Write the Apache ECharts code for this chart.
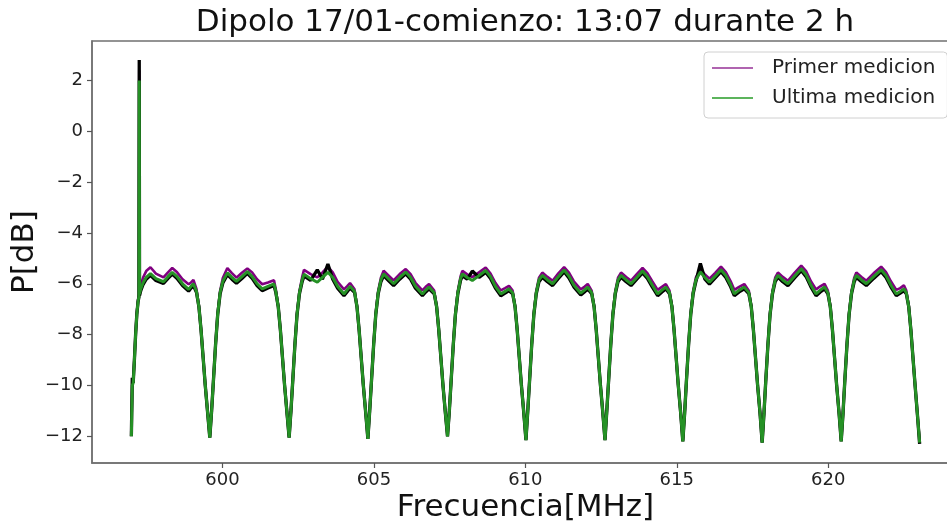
<!DOCTYPE html>
<html>
<head>
<meta charset="utf-8">
<script src="https://cdn.jsdelivr.net/npm/echarts@6/dist/echarts.min.js"></script>
<style>
html,body{margin:0;padding:0;background:#fff;}
#chart{width:947px;height:524px;}
</style>
</head>
<body>
<div id="chart"></div>
<script>
// Frequency (MHz)
const freq = [
596.99,597.02,597.05,597.09,597.13,597.17,597.21,597.24,597.25,597.26,597.30,597.38,597.48,597.62,597.80,598.05,598.20,598.34,598.50,598.68,598.88,598.96,599.04,599.14,599.22,599.29,599.36,599.43,599.51,
599.58,599.64,599.70,599.77,599.84,599.92,600.01,600.16,600.31,600.46,600.64,600.82,600.98,601.14,601.31,601.50,601.70,601.76,601.84,601.91,601.98,602.05,602.13,
602.20,602.26,602.32,602.39,602.46,602.54,602.63,602.69,602.91,603.13,603.30,603.48,603.64,603.80,604.01,604.11,604.21,604.36,604.44,604.51,604.58,604.65,604.73,
604.80,604.86,604.92,604.99,605.06,605.14,605.23,605.32,605.48,605.65,605.85,606.05,606.21,606.37,606.60,606.71,606.82,606.99,607.07,607.14,607.21,607.28,607.36,
607.43,607.49,607.55,607.62,607.69,607.77,607.86,607.92,608.08,608.25,608.47,608.69,608.85,609.01,609.19,609.33,609.46,609.58,609.66,609.73,609.80,609.87,609.95,
610.02,610.08,610.14,610.21,610.28,610.36,610.45,610.56,610.73,610.90,611.09,611.28,611.44,611.60,611.83,611.95,612.06,612.19,612.27,612.34,612.41,612.48,612.56,
612.63,612.69,612.75,612.82,612.89,612.97,613.06,613.16,613.33,613.49,613.68,613.87,614.03,614.19,614.37,614.51,614.64,614.76,614.84,614.91,614.98,615.05,615.13,
615.20,615.26,615.32,615.39,615.46,615.54,615.63,615.78,615.93,616.08,616.27,616.46,616.62,616.78,616.90,617.06,617.23,617.38,617.46,617.53,617.60,617.67,617.75,
617.82,617.88,617.94,618.01,618.08,618.16,618.25,618.34,618.50,618.67,618.89,619.11,619.27,619.43,619.60,619.74,619.88,619.99,620.07,620.14,620.21,620.28,620.36,
620.43,620.49,620.55,620.62,620.69,620.77,620.86,620.93,621.10,621.26,621.50,621.75,621.91,622.07,622.25,622.38,622.50,622.58,622.66,622.73,622.80,622.87,622.95,623.02
];
// First measurement (purple)
const primer = [
-11.8,-9.95,-9.85,-8.95,-7.95,-7.15,-6.62,-6.42,2.4,-6.3,-6.05,-5.75,-5.5,-5.35,-5.6,-5.75,-5.55,-5.38,-5.55,-5.82,-6.02,-5.95,-5.85,-6.2,-6.87,-7.8,-8.9,-10.0,-11.1,
-12.0,-11.0,-9.8,-8.4,-7.17,-6.28,-5.77,-5.38,-5.58,-5.76,-5.57,-5.4,-5.56,-5.82,-6.02,-5.95,-5.86,-6.22,-6.87,-7.8,-8.9,-10.0,-11.1,
-12.0,-11.0,-9.8,-8.4,-7.17,-6.28,-5.74,-5.45,-5.62,-5.75,-5.55,-5.33,-5.55,-5.92,-6.22,-6.1,-5.97,-6.22,-6.87,-7.8,-8.9,-10.0,-11.1,
-12.05,-11.0,-9.8,-8.4,-7.17,-6.28,-5.76,-5.49,-5.67,-5.87,-5.62,-5.42,-5.62,-5.96,-6.26,-6.12,-6.01,-6.27,-6.87,-7.8,-8.9,-10.0,-11.1,
-11.95,-11.0,-9.8,-8.4,-7.17,-6.28,-5.71,-5.49,-5.63,-5.74,-5.55,-5.36,-5.6,-5.96,-6.26,-6.17,-6.08,-6.27,-6.87,-7.8,-8.9,-10.0,-11.1,
-12.1,-11.0,-9.8,-8.4,-7.17,-6.28,-5.76,-5.56,-5.73,-5.88,-5.59,-5.34,-5.56,-5.9,-6.22,-6.12,-6.01,-6.27,-6.87,-7.8,-8.9,-10.0,-11.1,
-12.1,-11.0,-9.8,-8.4,-7.17,-6.28,-5.76,-5.56,-5.73,-5.88,-5.62,-5.38,-5.58,-5.9,-6.24,-6.12,-6.01,-6.27,-6.87,-7.8,-8.9,-10.0,-11.1,
-12.15,-11.1,-9.8,-8.4,-7.17,-6.28,-5.76,-5.44,-5.63,-5.8,-5.57,-5.33,-5.54,-5.9,-6.24,-6.12,-6.01,-6.27,-6.87,-7.8,-8.9,-10.0,-11.1,
-12.2,-11.1,-9.8,-8.4,-7.17,-6.28,-5.76,-5.56,-5.73,-5.88,-5.57,-5.29,-5.5,-5.9,-6.22,-6.1,-6.0,-6.27,-6.87,-7.8,-8.9,-10.0,-11.1,
-12.15,-11.1,-9.8,-8.4,-7.17,-6.28,-5.76,-5.56,-5.73,-5.88,-5.59,-5.33,-5.54,-5.9,-6.24,-6.17,-6.06,-6.27,-6.87,-7.8,-8.9,-10.0,-11.2,-12.2
];
// Intermediate measurements (black)
const intermedia = [
-12.0,-9.7,-9.9,-9.0,-8.0,-7.2,-6.72,-6.52,2.8,-6.47,-6.27,-6.02,-5.82,-5.67,-5.87,-5.99,-5.79,-5.62,-5.79,-6.07,-6.29,-6.17,-6.07,-6.34,-6.9,-7.8,-8.9,-10.0,-11.1,
-12.05,-11.0,-9.8,-8.4,-7.22,-6.4,-5.97,-5.64,-5.82,-5.98,-5.79,-5.59,-5.79,-6.07,-6.27,-6.17,-6.07,-6.34,-6.9,-7.8,-8.9,-10.0,-11.1,
-12.05,-11.0,-9.8,-8.4,-7.22,-6.4,-5.92,-5.69,-5.87,-5.45,-5.82,-5.22,-5.82,-6.17,-6.47,-6.32,-6.17,-6.34,-6.9,-7.8,-8.9,-10.0,-11.1,
-12.1,-11.0,-9.8,-8.4,-7.22,-6.4,-5.92,-5.68,-5.87,-6.07,-5.82,-5.61,-5.82,-6.17,-6.47,-6.32,-6.2,-6.39,-6.9,-7.8,-8.9,-10.0,-11.1,
-12.0,-11.0,-9.8,-8.4,-7.22,-6.4,-5.87,-5.68,-5.82,-5.5,-5.75,-5.55,-5.79,-6.17,-6.47,-6.37,-6.27,-6.39,-6.9,-7.8,-8.9,-10.0,-11.1,
-12.15,-11.0,-9.8,-8.4,-7.22,-6.4,-5.92,-5.74,-5.92,-6.07,-5.79,-5.53,-5.77,-6.12,-6.44,-6.32,-6.2,-6.39,-6.9,-7.8,-8.9,-10.0,-11.1,
-12.15,-11.0,-9.8,-8.4,-7.22,-6.4,-5.92,-5.74,-5.92,-6.07,-5.82,-5.57,-5.79,-6.12,-6.47,-6.32,-6.2,-6.39,-6.9,-7.8,-8.9,-10.0,-11.1,
-12.2,-11.1,-9.8,-8.4,-7.22,-6.4,-5.92,-5.2,-5.82,-6.01,-5.77,-5.52,-5.75,-6.12,-6.47,-6.32,-6.2,-6.39,-6.9,-7.8,-8.9,-10.0,-11.1,
-12.25,-11.1,-9.8,-8.4,-7.22,-6.4,-5.92,-5.74,-5.92,-6.07,-5.77,-5.48,-5.72,-6.12,-6.47,-6.32,-6.2,-6.39,-6.9,-7.8,-8.9,-10.0,-11.1,
-12.2,-11.1,-9.8,-8.4,-7.22,-6.4,-5.92,-5.74,-5.92,-6.07,-5.79,-5.52,-5.75,-6.12,-6.47,-6.37,-6.27,-6.39,-6.9,-7.8,-8.9,-10.0,-11.2,-12.3
];
// Last measurement (green)
const ultima = [
-12.0,-10.0,-9.9,-9.0,-8.0,-7.2,-6.7,-6.5,2.0,-6.4,-6.2,-5.95,-5.75,-5.6,-5.8,-5.92,-5.72,-5.55,-5.72,-6.0,-6.22,-6.1,-6.0,-6.3,-6.9,-7.8,-8.9,-10.0,-11.1,
-12.05,-11.0,-9.8,-8.4,-7.2,-6.35,-5.9,-5.57,-5.75,-5.91,-5.72,-5.52,-5.72,-6.0,-6.2,-6.1,-6.0,-6.3,-6.9,-7.8,-8.9,-10.0,-11.1,
-12.05,-11.0,-9.8,-8.4,-7.2,-6.35,-5.85,-5.62,-5.8,-5.94,-5.75,-5.55,-5.75,-6.1,-6.4,-6.25,-6.1,-6.3,-6.9,-7.8,-8.9,-10.0,-11.1,
-12.1,-11.0,-9.8,-8.4,-7.2,-6.35,-5.85,-5.61,-5.8,-6.0,-5.75,-5.54,-5.75,-6.1,-6.4,-6.25,-6.13,-6.35,-6.9,-7.8,-8.9,-10.0,-11.1,
-12.0,-11.0,-9.8,-8.4,-7.2,-6.35,-5.8,-5.61,-5.75,-5.87,-5.68,-5.48,-5.72,-6.1,-6.4,-6.3,-6.2,-6.35,-6.9,-7.8,-8.9,-10.0,-11.1,
-12.15,-11.0,-9.8,-8.4,-7.2,-6.35,-5.85,-5.67,-5.85,-6.0,-5.72,-5.46,-5.7,-6.05,-6.37,-6.25,-6.13,-6.35,-6.9,-7.8,-8.9,-10.0,-11.1,
-12.15,-11.0,-9.8,-8.4,-7.2,-6.35,-5.85,-5.67,-5.85,-6.0,-5.75,-5.5,-5.72,-6.05,-6.4,-6.25,-6.13,-6.35,-6.9,-7.8,-8.9,-10.0,-11.1,
-12.2,-11.1,-9.8,-8.4,-7.2,-6.35,-5.85,-5.54,-5.75,-5.94,-5.7,-5.45,-5.68,-6.05,-6.4,-6.25,-6.13,-6.35,-6.9,-7.8,-8.9,-10.0,-11.1,
-12.25,-11.1,-9.8,-8.4,-7.2,-6.35,-5.85,-5.67,-5.85,-6.0,-5.7,-5.41,-5.65,-6.05,-6.4,-6.25,-6.13,-6.35,-6.9,-7.8,-8.9,-10.0,-11.1,
-12.2,-11.1,-9.8,-8.4,-7.2,-6.35,-5.85,-5.67,-5.85,-6.0,-5.72,-5.45,-5.68,-6.05,-6.4,-6.3,-6.2,-6.35,-6.9,-7.8,-8.9,-10.0,-11.2,-12.25
];
const xTicks = [600, 605, 610, 615, 620];
const yTicks = [-12, -10, -8, -6, -4, -2, 0, 2];
const seriesNames = ['Primer medicion', 'Intermedias', 'Ultima medicion'];
const titleText = 'Dipolo 17/01-comienzo: 13:07 durante 2 h';

function pairs(ys) { return freq.map((f, i) => [f, ys[i]]); }

const FONT = 'DejaVu Sans';
const chart = echarts.init(document.getElementById('chart'), null, { renderer: 'canvas' });
chart.setOption({
  animation: false,
  backgroundColor: '#fff',
  textStyle: { fontFamily: FONT },
  grid: { left: 92, top: 41, bottom: 61, right: -12, show: true, borderColor: '#707070', borderWidth: 1.5,
          containLabel: false, outerBoundsMode: 'none' },
  graphic: [{
    type: 'text', x: 525, y: 7,
    style: { text: titleText, font: '31px "DejaVu Sans"', fill: '#111', textAlign: 'center', textVerticalAlign: 'top' }
  }],
  legend: {
    data: [
      { name: seriesNames[0], itemStyle: { color: '#b064b0' } },
      { name: seriesNames[2], itemStyle: { color: '#5cb45c' } }
    ],
    orient: 'vertical', left: 704, top: 52,
    icon: 'rect', itemWidth: 41, itemHeight: 2, itemGap: 10,
    padding: [6, 12, 10, 8],
    borderColor: '#d0d0d0', borderWidth: 1, borderRadius: 4, backgroundColor: '#fff',
    textStyle: { fontSize: 20, color: '#222', fontFamily: FONT, lineHeight: 20, padding: [0, 0, 0, 14] }
  },
  xAxis: {
    type: 'value', min: 595.69, max: 624.32,
    name: 'Frecuencia[MHz]', nameLocation: 'middle', nameGap: 29, nameMoveOverlap: false,
    nameTextStyle: { fontSize: 31, color: '#111', fontFamily: FONT },
    axisLine: { show: true, onZero: false, lineStyle: { color: '#707070', width: 1.5 } },
    axisTick: { show: true, customValues: xTicks, length: 5, lineStyle: { color: '#555', width: 1.2 } },
    axisLabel: { customValues: xTicks, fontSize: 18, color: '#222', margin: 8 },
    splitLine: { show: false }
  },
  yAxis: {
    type: 'value', min: -13.05, max: 3.55,
    name: 'P[dB]', nameLocation: 'middle', nameGap: 52, nameMoveOverlap: false,
    nameTextStyle: { fontSize: 31, color: '#111', fontFamily: FONT },
    axisLine: { show: true, onZero: false, lineStyle: { color: '#707070', width: 1.5 } },
    axisTick: { show: true, customValues: yTicks, length: 5, lineStyle: { color: '#555', width: 1.2 } },
    axisLabel: { customValues: yTicks, fontSize: 18, color: '#222', margin: 9,
      formatter: v => String(v).replace('-', '\u2212') },
    splitLine: { show: false }
  },
  series: [
    { name: seriesNames[0], type: 'line', data: pairs(primer), symbol: 'none', showSymbol: false,
      lineStyle: { color: '#800080', width: 2.6 }, itemStyle: { color: '#800080' }, z: 2 },
    { name: seriesNames[1], type: 'line', data: pairs(intermedia), symbol: 'none', showSymbol: false,
      lineStyle: { color: '#000000', width: 3.3 }, itemStyle: { color: '#000' }, z: 3 },
    { name: seriesNames[2], type: 'line', data: pairs(ultima), symbol: 'none', showSymbol: false,
      lineStyle: { color: '#259125', width: 3 }, itemStyle: { color: '#259125' }, z: 4 }
  ]
});
</script>
</body>
</html>
